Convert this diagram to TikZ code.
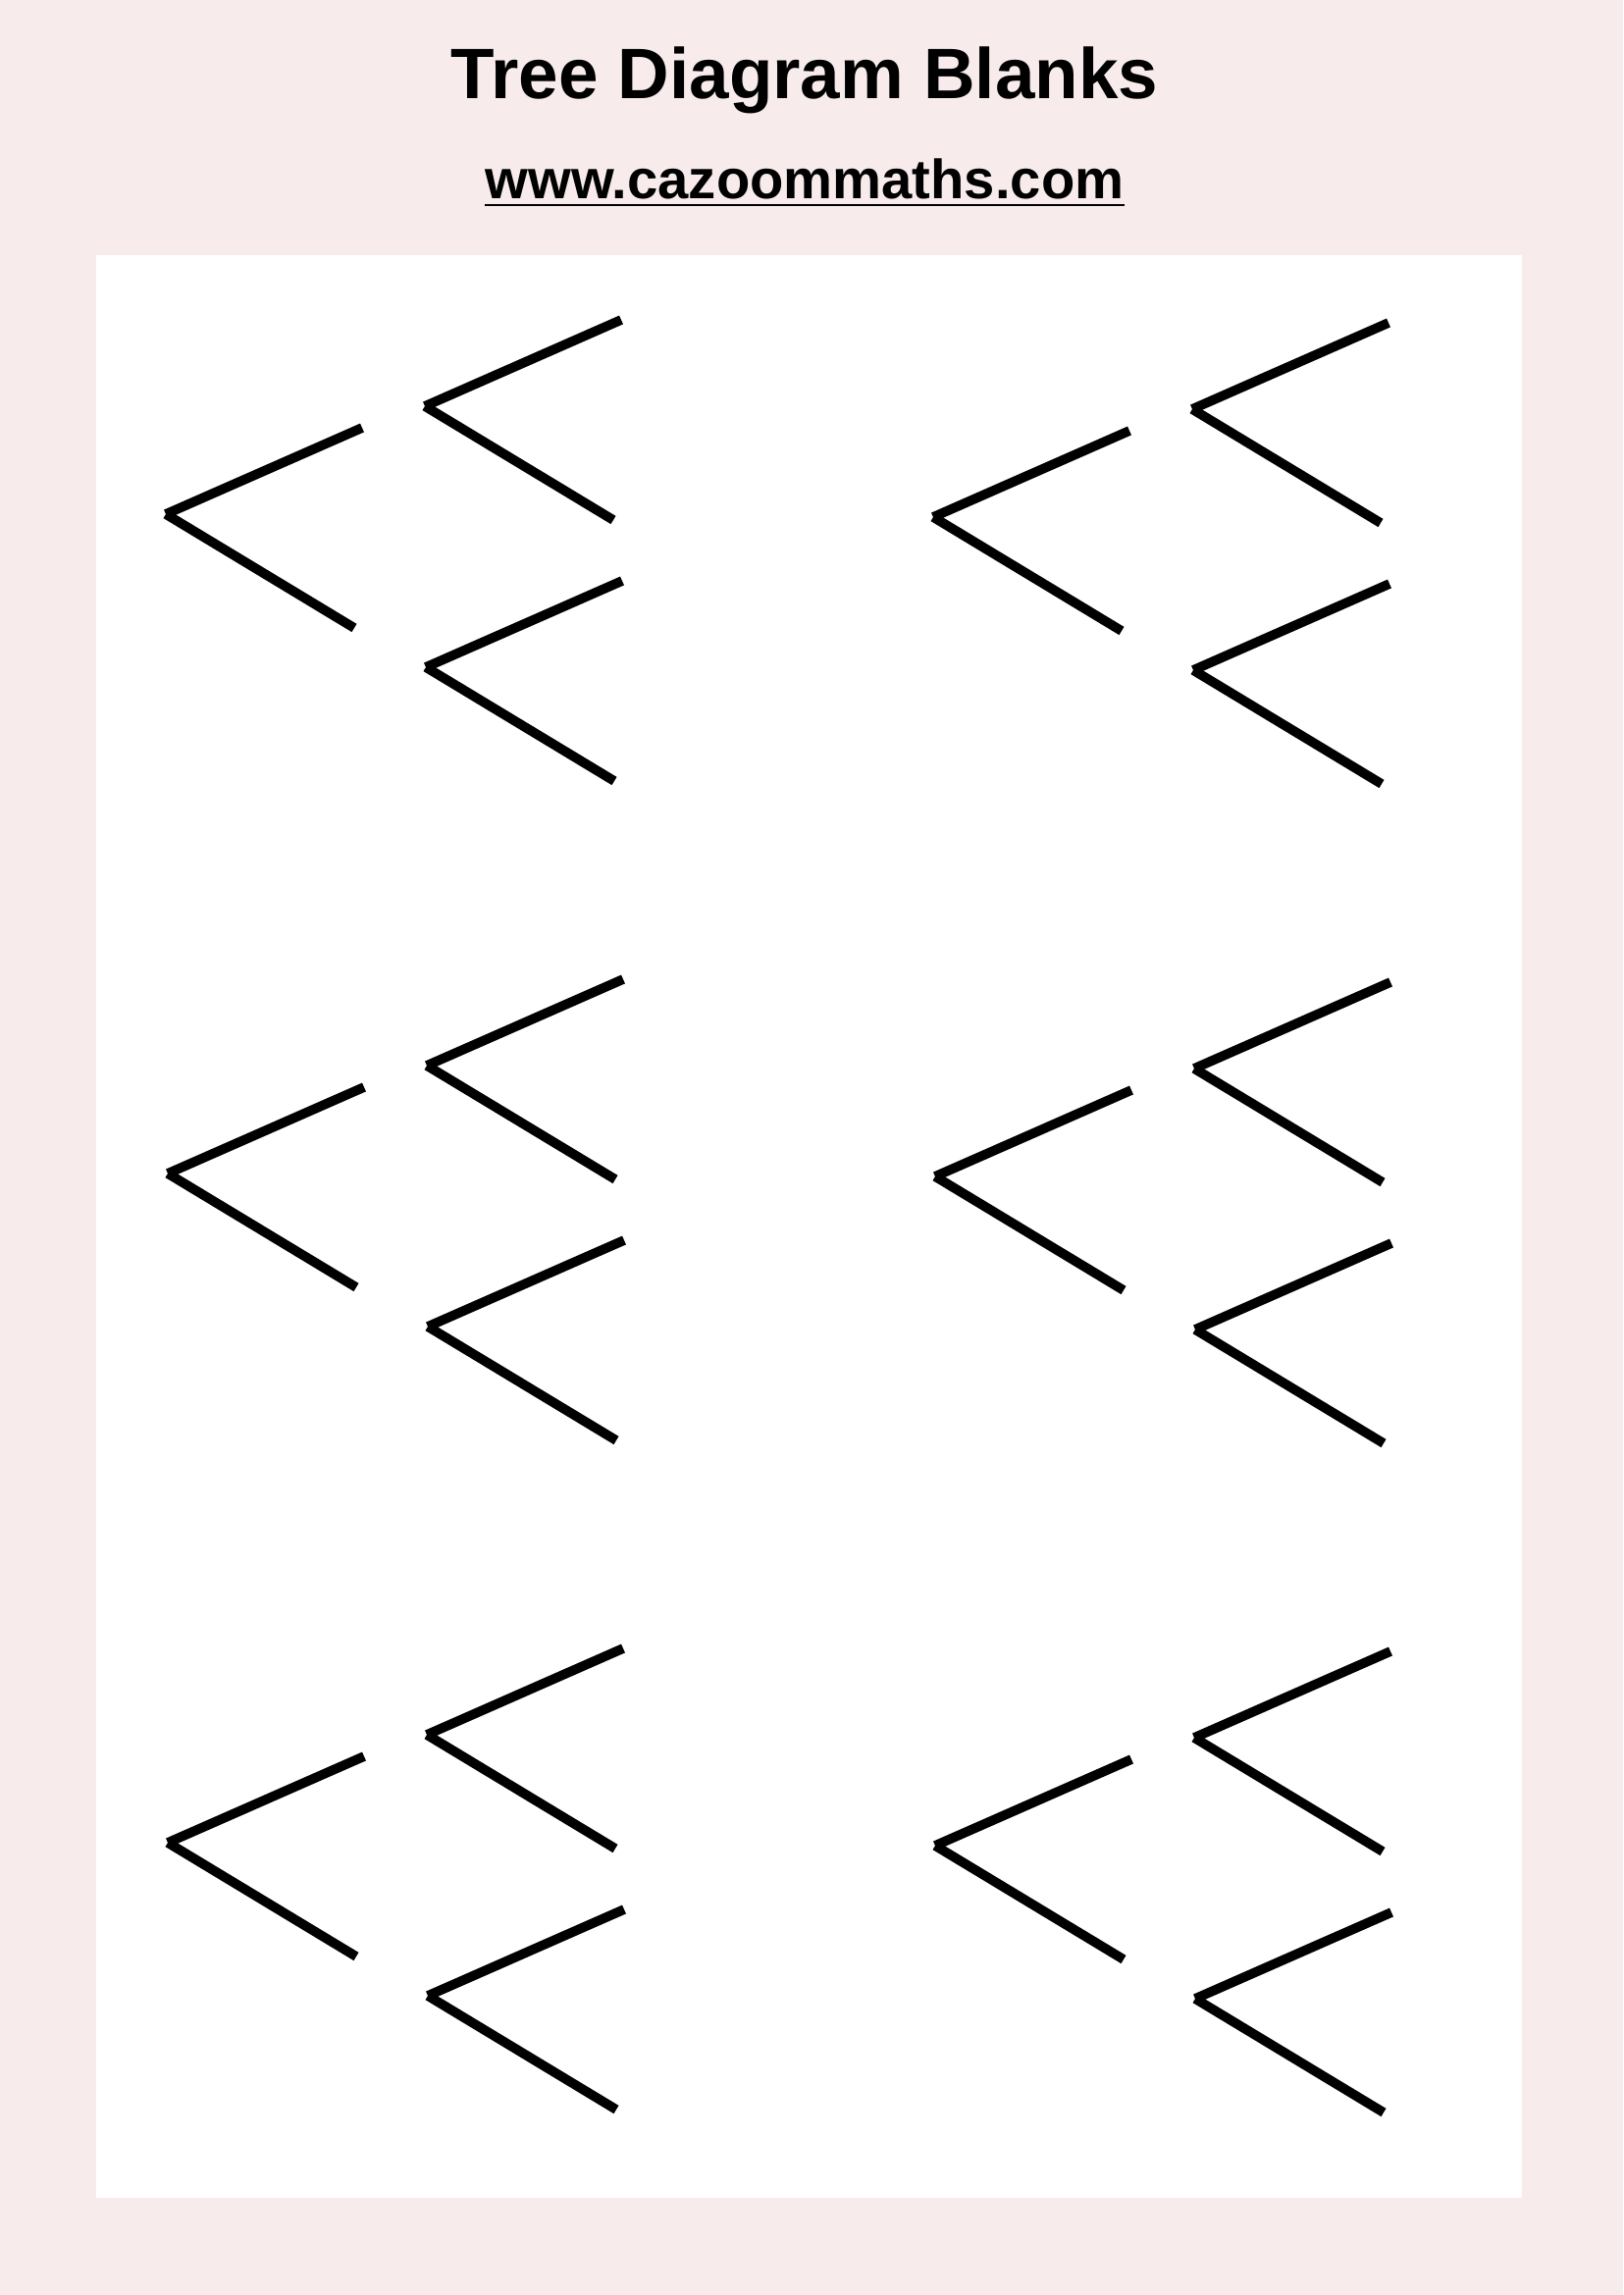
\documentclass[tikz,border=0pt]{standalone}
\usepackage{fontspec}
\setmainfont{Liberation Sans}
\usetikzlibrary{calc}
\definecolor{pagepink}{RGB}{247,235,236}
\tikzset{branch/.style={line width=3.5pt, line cap=butt, color=black}}
\def\treeblank[#1](#2,#3){%
	\coordinate (#1-r) at (#2,#3);
	\coordinate (#1-u) at ($(#1-r)+(200,-88)$);
	\coordinate (#1-d) at ($(#1-r)+(192,116)$);
	\coordinate (#1-a) at ($(#1-r)+(264,-110)$);
	\coordinate (#1-au) at ($(#1-a)+(200,-88)$);
	\coordinate (#1-ad) at ($(#1-a)+(192,116)$);
	\coordinate (#1-b) at ($(#1-r)+(265,156)$);
	\coordinate (#1-bu) at ($(#1-b)+(200,-88)$);
	\coordinate (#1-bd) at ($(#1-b)+(192,116)$);
	\draw[branch] (#1-r) -- (#1-u);
	\draw[branch] (#1-r) -- (#1-d);
	\draw[branch] (#1-a) -- (#1-au);
	\draw[branch] (#1-a) -- (#1-ad);
	\draw[branch] (#1-b) -- (#1-bu);
	\draw[branch] (#1-b) -- (#1-bd);
}

\begin{document}
\begin{tikzpicture}[x={(0.012697cm,0)}, y={(0,-0.012697cm)}]
		%%%%% START %%%%%
		
		\fill[pagepink] (0, 0) rectangle (1654, 2339);
		\useasboundingbox (0, 0) rectangle (1654, 2339);
		\fill[white] (98, 260) rectangle (1551, 2240);
		
		\node[anchor=base, inner sep=0pt, font=\fontsize{26.3}{30}\selectfont\bfseries] (title) at (820, 101) {Tree Diagram Blanks};
		\node[anchor=base, inner sep=0pt, font=\fontsize{20.3}{24}\selectfont\bfseries] (url) at (820, 203) {www.cazoommaths.com};
		\draw[line width=0.75pt] ([yshift=-2.2pt]url.base west) -- ([yshift=-2.2pt]url.base east);
		
		\treeblank[ta](169, 524)
		\treeblank[tb](951, 527)
		
		\treeblank[tc](171, 1196)
		\treeblank[td](953, 1199)
		
		\treeblank[te](171, 1878)
		\treeblank[tf](953, 1881)
		
		%%%%% END %%%%%
	\end{tikzpicture}
\end{document}
